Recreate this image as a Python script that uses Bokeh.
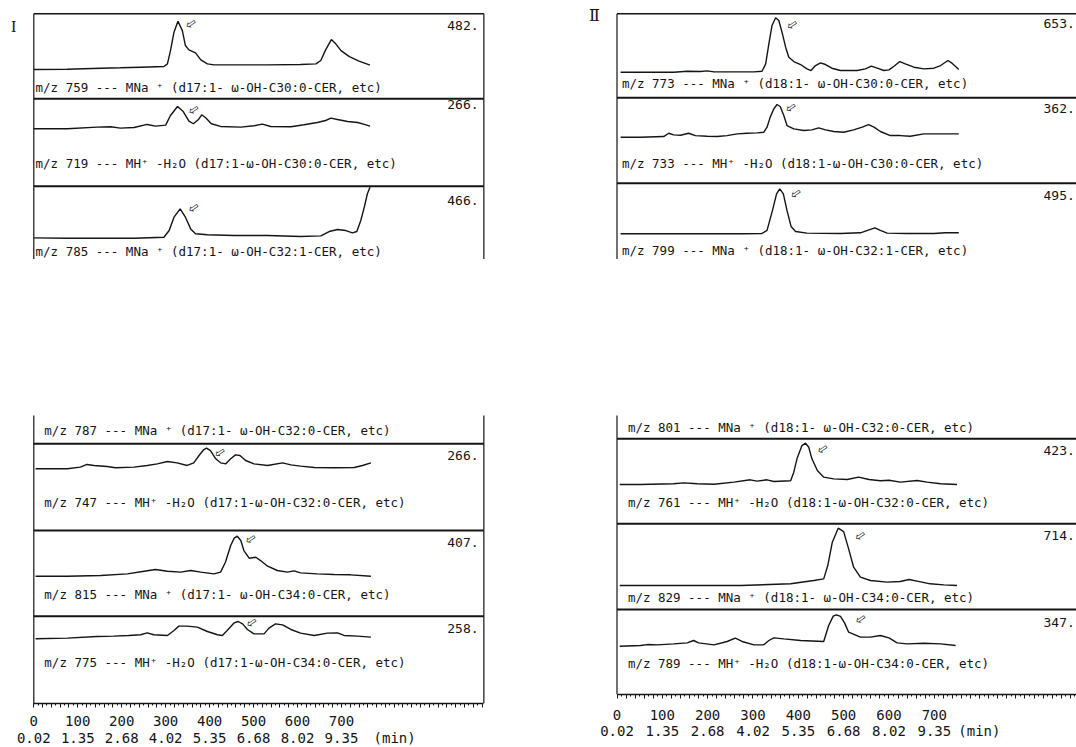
from bokeh.plotting import figure
from bokeh.layouts import row, column
from bokeh.models import Range1d, LinearAxis, FixedTicker
from bokeh.core.properties import value
from bokeh.embed import file_html
from bokeh.resources import INLINE

# ------------------------------------------------------------------
# Scan axis (scan number) and its retention-time equivalents
# ------------------------------------------------------------------
SCAN_TICKS = [0, 100, 200, 300, 400, 500, 600, 700]
SCAN_LABELS = ["0", "100", "200", "300", "400", "500", "600", "700"]
TIME_LABELS = ["0.02", "1.35", "2.68", "4.02", "5.35", "6.68", "8.02", "9.35"]
TIME_UNIT = "(min)"

# ------------------------------------------------------------------
# Mass chromatograms, group I (d17:1 bases)
# ------------------------------------------------------------------
I_759_SCAN = [0, 76, 152, 197, 243, 296, 304, 311, 319, 328, 338, 345, 353, 368, 380, 395, 410,
              456, 532, 607, 642, 653, 664, 677, 687, 699, 718, 740, 765]
I_759_INT = [0, 3, 13, 17, 23, 30, 56, 189, 372, 482, 388, 239, 196, 166, 96, 56, 46,
             46, 46, 50, 56, 90, 196, 299, 256, 189, 129, 83, 43]

I_719_SCAN = [0, 76, 144, 175, 197, 228, 258, 277, 300, 311, 327, 340, 353, 363, 374, 382, 391,
              404, 425, 471, 501, 520, 539, 585, 615, 645, 664, 676, 691, 714, 737, 752, 765]
I_719_INT = [0, 0, 20, 24, 8, 16, 52, 32, 44, 159, 266, 206, 91, 60, 107, 167, 131,
             60, 28, 20, 36, 56, 28, 24, 48, 75, 99, 127, 111, 87, 75, 52, 32]

I_785_SCAN = [0, 76, 152, 228, 296, 308, 319, 333, 345, 357, 368, 395, 456, 532, 607, 653,
              672, 691, 710, 725, 735, 744, 752, 759, 765]
I_785_INT = [3, 0, 0, 0, 9, 70, 192, 268, 192, 85, 40, 31, 24, 24, 15, 21,
             61, 79, 70, 49, 61, 162, 284, 406, 466]

I_747_SCAN = [4, 76, 106, 121, 137, 167, 186, 228, 258, 281, 304, 326, 349, 364, 376, 387, 393,
              402, 414, 425, 437, 448, 459, 469, 482, 501, 532, 566, 585, 607, 638, 683, 729, 748, 767]
I_747_INT = [0, 0, 21, 56, 43, 30, 13, 21, 43, 64, 94, 77, 43, 77, 172, 249, 266,
             236, 129, 77, 64, 129, 180, 172, 107, 64, 43, 77, 51, 34, 17, 13, 17, 43, 77]

I_815_SCAN = [4, 76, 152, 213, 251, 277, 304, 334, 357, 380, 410, 425, 436, 448, 456, 463, 471,
              478, 490, 505, 516, 532, 554, 577, 592, 607, 645, 683, 721, 767]
I_815_INT = [0, 0, 7, 24, 51, 68, 51, 41, 58, 41, 24, 41, 142, 312, 387, 407, 363,
             261, 183, 193, 159, 102, 58, 41, 54, 34, 24, 17, 14, 0]

I_775_SCAN = [4, 76, 144, 182, 216, 243, 258, 273, 304, 319, 330, 349, 372, 395, 418, 429, 440,
              456, 465, 475, 486, 501, 524, 535, 550, 566, 585, 607, 638, 668, 691, 706, 737, 767]
I_775_INT = [0, 10, 35, 40, 50, 60, 89, 60, 50, 124, 189, 189, 174, 109, 60, 50, 124,
             238, 258, 223, 139, 74, 74, 159, 223, 208, 139, 84, 50, 84, 89, 50, 40, 25]

# ------------------------------------------------------------------
# Mass chromatograms, group II (d18:1 bases)
# ------------------------------------------------------------------
II_773_SCAN = [8, 52, 125, 155, 184, 199, 214, 243, 272, 302, 320, 328, 335, 342, 350, 357, 364,
               372, 379, 390, 405, 419, 428, 438, 449, 460, 474, 493, 530, 548, 561, 574, 589,
               600, 611, 624, 636, 655, 677, 699, 714, 730, 739, 747, 754]
II_773_INT = [0, 0, 0, 12, 8, 16, 4, 4, 4, 4, 12, 100, 341, 561, 653, 621, 481,
              300, 180, 128, 92, 40, 20, 80, 112, 92, 48, 20, 20, 40, 72, 48, 20,
              28, 72, 128, 100, 60, 40, 48, 80, 140, 108, 68, 32]

II_733_SCAN = [8, 52, 103, 114, 125, 140, 158, 173, 199, 221, 243, 265, 287, 309, 324, 331, 338,
               346, 353, 360, 368, 375, 390, 412, 430, 445, 460, 478, 500, 522, 541, 555, 567,
               581, 603, 625, 647, 677, 714, 754]
II_733_INT = [0, 0, 7, 44, 26, 22, 44, 18, 11, 7, 18, 37, 44, 48, 55, 111, 222,
              314, 362, 340, 240, 129, 92, 74, 81, 103, 81, 63, 55, 81, 111, 140, 111,
              63, 18, 18, 11, 37, 37, 37]

II_799_SCAN = [8, 125, 199, 272, 320, 331, 343, 352, 359, 367, 375, 384, 394, 419, 493, 537,
               556, 569, 581, 596, 640, 699, 725, 754]
II_799_INT = [0, 0, 0, 0, 4, 37, 257, 440, 495, 440, 257, 81, 26, 7, 4, 11,
              44, 66, 37, 7, 4, 4, 11, 11]

II_761_SCAN = [6, 52, 74, 125, 147, 177, 214, 258, 294, 309, 331, 346, 383, 390, 397, 408, 416,
               423, 430, 442, 456, 478, 508, 533, 556, 581, 600, 625, 662, 684, 714, 750]
II_761_INT = [0, 0, 3, 7, 17, 7, 3, 24, 48, 34, 48, 31, 38, 126, 263, 399, 423,
              382, 263, 143, 75, 58, 51, 75, 51, 38, 44, 24, 41, 24, 7, 0]

II_829_SCAN = [6, 125, 272, 383, 434, 456, 465, 475, 488, 500, 511, 522, 537, 559, 596, 625,
               644, 662, 691, 721, 750]
II_829_INT = [0, 0, 0, 21, 62, 83, 249, 540, 714, 672, 457, 228, 104, 62, 42, 50,
              75, 54, 21, 8, 0]

II_789_SCAN = [6, 52, 67, 89, 125, 155, 169, 180, 214, 243, 261, 276, 302, 324, 335, 346, 368,
               405, 456, 467, 477, 484, 493, 502, 511, 537, 559, 581, 600, 618, 640, 677, 714, 747]
II_789_INT = [0, 7, 18, 15, 26, 37, 63, 37, 15, 52, 89, 52, 15, 15, 63, 92, 81,
              63, 52, 229, 332, 347, 329, 258, 155, 100, 100, 118, 92, 37, 26, 33, 26, 7]

# Ion descriptions printed under each trace
TL_TITLES = ["m/z 759 --- MNa \u207a (d17:1- \u03c9-OH-C30:0-CER, etc)",
             "m/z 719 --- MH\u207a -H\u2082O (d17:1-\u03c9-OH-C30:0-CER, etc)",
             "m/z 785 --- MNa \u207a (d17:1- \u03c9-OH-C32:1-CER, etc)"]
TR_TITLES = ["m/z 773 --- MNa \u207a (d18:1- \u03c9-OH-C30:0-CER, etc)",
             "m/z 733 --- MH\u207a -H\u2082O (d18:1-\u03c9-OH-C30:0-CER, etc)",
             "m/z 799 --- MNa \u207a (d18:1- \u03c9-OH-C32:1-CER, etc)"]
BL_TITLES = ["m/z 787 --- MNa \u207a (d17:1- \u03c9-OH-C32:0-CER, etc)",
             "m/z 747 --- MH\u207a -H\u2082O (d17:1-\u03c9-OH-C32:0-CER, etc)",
             "m/z 815 --- MNa \u207a (d17:1- \u03c9-OH-C34:0-CER, etc)",
             "m/z 775 --- MH\u207a -H\u2082O (d17:1-\u03c9-OH-C34:0-CER, etc)"]
BR_TITLES = ["m/z 801 --- MNa \u207a (d18:1- \u03c9-OH-C32:0-CER, etc)",
             "m/z 761 --- MH\u207a -H\u2082O (d18:1-\u03c9-OH-C32:0-CER, etc)",
             "m/z 829 --- MNa \u207a (d18:1- \u03c9-OH-C34:0-CER, etc)",
             "m/z 789 --- MH\u207a -H\u2082O (d18:1-\u03c9-OH-C34:0-CER, etc)"]

# Marked peaks (scan, intensity level of the marker)
TL_MARK_SCAN, TL_MARK_LEVEL = [357, 363, 363], [459, 230, 280]
TR_MARK_SCAN, TR_MARK_LEVEL = [386, 383, 394], [573, 332, 447]
BL_MARK_SCAN, BL_MARK_LEVEL = [423, 493, 495], [214, 381, 248]
BR_MARK_SCAN, BR_MARK_LEVEL = [453, 536, 537], [366, 623, 303]

# ------------------------------------------------------------------
# Layout (page pixels, y downwards)
# ------------------------------------------------------------------
INK = "#141414"
MONO = "DejaVu Sans Mono"
SCAN_END = 1024
LEFT_COL = (33.3, 0.4395)    # scan-0 offset in canvas px, px per scan
RIGHT_COL = (76.5, 0.4533)
PAGE_H = 747
TOP_H = 259
RULER_ROOM = 8               # space under each ruler line for its tick marks


def base_figure(col, width, height, y_top, y_bottom, border_bottom=0):
    origin, ppu = col
    p = figure(width=width, height=height,
               x_range=Range1d(-origin / ppu, (width - origin) / ppu),
               y_range=Range1d(y_bottom, y_top),
               output_backend="svg", toolbar_location=None,
               x_axis_location=None, y_axis_location=None,
               min_border=0, min_border_bottom=border_bottom,
               outline_line_color=None,
               background_fill_color="white", border_fill_color="white")
    p.xgrid.visible = False
    p.ygrid.visible = False
    return p


def draw_section(p, traces, zero_y, full_y, titles, title_x, title_y,
                 num_x, num_y, mark_scan, mark_level, frame_top, frame_bottom,
                 seps, top_rule, right_rule):
    # frame rules
    p.segment(x0=[0], y0=[frame_top], x1=[0], y1=[frame_bottom], line_color=INK, line_width=1.2)
    if right_rule:
        p.segment(x0=[SCAN_END], y0=[frame_top], x1=[SCAN_END], y1=[frame_bottom],
                  line_color=INK, line_width=1.2)
    if top_rule:
        p.segment(x0=[0], y0=[frame_top], x1=[SCAN_END], y1=[frame_top], line_color=INK, line_width=1.5)
    p.segment(x0=[0] * len(seps), y0=seps, x1=[SCAN_END] * len(seps), y1=seps,
              line_color=INK, line_width=1.9)

    maxima = []
    for (scan, inten), z, f in zip(traces, zero_y, full_y):
        vmax = max(inten)
        maxima.append(vmax)
        ys = [z - (z - f) * v / vmax for v in inten]
        p.line(scan, ys, line_color=INK, line_width=1.4)

    p.text(x=[title_x] * len(titles), y=title_y, text=titles,
           text_font=value(MONO), text_font_size="12.5px", text_color=INK,
           text_align="left", text_baseline="middle")
    p.text(x=[num_x] * len(maxima), y=num_y, text=[f"{m}." for m in maxima],
           text_font=value(MONO), text_font_size="13px", text_color=INK,
           text_align="right", text_baseline="middle")

    my = [z - (z - f) * lv / m for z, f, lv, m in zip(zero_y, full_y, mark_level, maxima)]
    p.text(x=mark_scan, y=my, text=["\u21e6"] * len(mark_scan), angle=0.6,
           text_font=value("DejaVu Sans"), text_font_size="13px", text_color=INK,
           text_align="center", text_baseline="middle")


def add_ruler(p):
    # scan ruler: ticks every 20 scans (long) and 10 scans (short); its
    # numbers are printed in the strip below
    ruler = LinearAxis(
        bounds=(0, SCAN_END),
        ticker=FixedTicker(ticks=list(range(0, SCAN_END + 1, 20)),
                           minor_ticks=list(range(0, SCAN_END + 1, 10))),
        axis_line_color=INK, axis_line_width=1.4,
        major_tick_line_color=INK, minor_tick_line_color=INK,
        major_tick_in=0, major_tick_out=4, minor_tick_in=0, minor_tick_out=2,
        major_label_standoff=0, major_label_text_color=None)
    p.add_layout(ruler, "below")


def ruler_strip(col, width, y_top, row1_y, row2_y, unit_scan):
    # scan numbers over retention times under the ruler
    s = base_figure(col, width, PAGE_H - y_top, y_top, PAGE_H)
    s.text(x=SCAN_TICKS, y=[row1_y] * len(SCAN_TICKS), text=SCAN_LABELS,
           text_font=value(MONO), text_font_size="14px", text_color=INK,
           text_align="center", text_baseline="middle")
    s.text(x=SCAN_TICKS, y=[row2_y] * len(SCAN_TICKS), text=TIME_LABELS,
           text_font=value(MONO), text_font_size="14px", text_color=INK,
           text_align="center", text_baseline="middle")
    s.text(x=[unit_scan], y=[row2_y], text=[TIME_UNIT],
           text_font=value(MONO), text_font_size="14px", text_color=INK,
           text_align="left", text_baseline="middle")
    return s


# ---------------- top-left: group I, first three ions ----------------
tl = base_figure(LEFT_COL, 540, TOP_H, 0, TOP_H)
draw_section(tl, [(I_759_SCAN, I_759_INT), (I_719_SCAN, I_719_INT), (I_785_SCAN, I_785_INT)],
             zero_y=[69.0, 128.3, 237.7], full_y=[20.7, 106.0, 186.7],
             titles=TL_TITLES, title_x=4, title_y=[87.0, 163.0, 251.0],
             num_x=1012, num_y=[25.0, 104.0, 200.0],
             mark_scan=TL_MARK_SCAN, mark_level=TL_MARK_LEVEL,
             frame_top=13.3, frame_bottom=TOP_H, seps=[98.3, 185.7],
             top_rule=True, right_rule=True)
tl.text(x=[-46], y=[26], text=["I"], text_font=value("Liberation Serif"),
        text_font_size="16px", text_color=INK, text_align="center", text_baseline="middle")

# ---------------- top-right: group II, first three ions ----------------
tr = base_figure(RIGHT_COL, 536, TOP_H, 0, TOP_H)
draw_section(tr, [(II_773_SCAN, II_773_INT), (II_733_SCAN, II_733_INT), (II_799_SCAN, II_799_INT)],
             zero_y=[71.7, 136.7, 233.3], full_y=[17.3, 104.0, 188.3],
             titles=TR_TITLES, title_x=11, title_y=[83.3, 163.3, 250.0],
             num_x=1010, num_y=[23.0, 108.0, 195.0],
             mark_scan=TR_MARK_SCAN, mark_level=TR_MARK_LEVEL,
             frame_top=13.3, frame_bottom=TOP_H, seps=[97.3, 182.7],
             top_rule=True, right_rule=False)
tr.text(x=[-50], y=[15], text=["\u2161"], text_font=value("DejaVu Serif"),
        text_font_size="16px", text_color=INK, text_align="center", text_baseline="middle")

# ---------------- bottom-left: group I, remaining ions ----------------
BL_RULE = 703
bl = base_figure(LEFT_COL, 540, BL_RULE + RULER_ROOM - TOP_H, TOP_H, BL_RULE, border_bottom=RULER_ROOM)
draw_section(bl, [(I_747_SCAN, I_747_INT), (I_815_SCAN, I_815_INT), (I_775_SCAN, I_775_INT)],
             zero_y=[468.3, 575.7, 638.3], full_y=[447.7, 535.7, 621.0],
             titles=BL_TITLES, title_x=24, title_y=[430.0, 501.7, 594.3, 661.7],
             num_x=1012, num_y=[455.0, 541.7, 627.7],
             mark_scan=BL_MARK_SCAN, mark_level=BL_MARK_LEVEL,
             frame_top=415, frame_bottom=BL_RULE, seps=[443.3, 530.0, 615.7],
             top_rule=False, right_rule=True)
add_ruler(bl)
bl_strip = ruler_strip(LEFT_COL, 540, BL_RULE + RULER_ROOM, 720, 737, 773)

# ---------------- bottom-right: group II, remaining ions ----------------
BR_RULE = 694
br = base_figure(RIGHT_COL, 536, BR_RULE + RULER_ROOM - TOP_H, TOP_H, BR_RULE, border_bottom=RULER_ROOM)
draw_section(br, [(II_761_SCAN, II_761_INT), (II_829_SCAN, II_829_INT), (II_789_SCAN, II_789_INT)],
             zero_y=[484.0, 585.0, 645.7], full_y=[442.7, 527.7, 614.3],
             titles=BR_TITLES, title_x=24, title_y=[426.7, 501.7, 596.7, 663.3],
             num_x=1010, num_y=[450.0, 535.0, 621.7],
             mark_scan=BR_MARK_SCAN, mark_level=BR_MARK_LEVEL,
             frame_top=415, frame_bottom=BR_RULE, seps=[438.3, 523.3, 609.0],
             top_rule=False, right_rule=False)
add_ruler(br)
br_strip = ruler_strip(RIGHT_COL, 536, BR_RULE + RULER_ROOM, 714, 730, 753)

page = column(row(tl, tr), row(column(bl, bl_strip), column(br, br_strip)))
open("out.html", "w").write(file_html(page, INLINE))
